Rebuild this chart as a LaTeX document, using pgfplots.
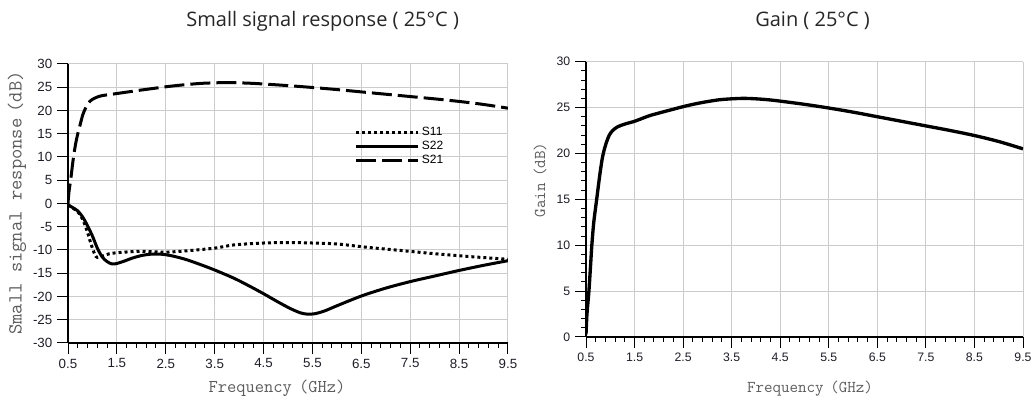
\documentclass[border=0pt]{standalone}
\usepackage{fontspec}
\usepackage{pgfplots}
\pgfplotsset{compat=1.18}
\setmainfont{Liberation Sans}
\newfontfamily\titlefont{Open Sans}
\definecolor{gridc}{HTML}{CCCCCC}
\definecolor{labc}{HTML}{5C5C5C}
\definecolor{tickc}{HTML}{1E1E28}
\pgfplotsset{
  common/.style={
    scale only axis, anchor=south west,
    xmin=0.5, xmax=9.5,
    xtick={0.5,1.5,2.5,3.5,4.5,5.5,6.5,7.5,8.5,9.5},
    xticklabels={0.5,1.5,2.5,3.5,4.5,5.5,6.5,7.5,8.5,9.5},
    minor x tick num=4,
    axis x line=bottom, axis y line=left,
    axis line style={-, line width=0.8pt, black},
    tick align=outside, major tick length=8.25pt, minor tick length=3.75pt,
    every tick/.style={black, line width=0.75pt},
    grid=major, major grid style={draw=gridc, line width=0.75pt},
    tick label style={color=tickc},
    /pgf/number format/assume math mode=true,
  }
}
\begin{document}
\begin{tikzpicture}
\path[use as bounding box] (0,0) rectangle (774pt,298.5pt);
% titles
\node[anchor=base, font=\titlefont\fontsize{15}{17}\selectfont, text=black!85] at (242pt,278.25pt) {Small signal response ( 25°C )};
\node[anchor=base, font=\titlefont\fontsize{15}{17}\selectfont, text=black!85] at (609.4pt,278.25pt) {Gain ( 25°C )};
% axis labels
\node[rotate=90, font=\ttfamily\fontsize{15}{16}\selectfont, text=labc] at (12.75pt,146.25pt) {Small signal response\hspace{0.3em}(dB)};
\node[anchor=base, font=\ttfamily\fontsize{13.5}{14}\selectfont, text=labc] at (207.75pt,3.75pt) {Frequency\hspace{0.4em}(GHz)};
\node[rotate=90, font=\ttfamily\fontsize{12.4}{14}\selectfont, text=labc] at (405pt,163.5pt) {Gain\hspace{0.4em}(dB)};
\node[anchor=base, font=\ttfamily\fontsize{12.4}{14}\selectfont, text=labc] at (607.5pt,3.75pt) {Frequency\hspace{0.4em}(GHz)};

\begin{axis}[common,
  at={(51pt,41.25pt)}, width=330pt, height=209.25pt,
  ymin=-30, ymax=30,
  ytick={-30,-25,-20,-15,-10,-5,0,5,10,15,20,25,30},
  yticklabels={-30,-25,-20,-15,-10,-5,0,5,10,15,20,25,30},
  tick label style={font=\fontsize{10}{12}\selectfont},
  legend cell align=left,
  legend style={at={(axis cs:6.37,16.88)}, anchor=north west, draw=none, fill=none,
    inner sep=0pt, outer sep=0pt, row sep=0pt,
    font=\fontsize{9}{9}\selectfont,
    nodes={inner sep=1.5pt, text height=6.5pt, text depth=1pt}},
  legend image code/.code={\draw[#1] (0pt,0pt) -- (46.5pt,0pt);},
]
\addplot[black, line width=2.25pt, dash pattern=on 2.25pt off 2.25pt, smooth, tension=0.5] coordinates {
(0.5,-0.3) (0.6,-1.0) (0.7,-1.8) (0.8,-3.4) (0.9,-6.2) (0.95,-8.0) (1.0,-9.6) (1.05,-11.0)
(1.1,-11.6) (1.2,-11.3) (1.35,-10.8) (1.6,-10.5) (2.0,-10.3) (2.5,-10.45) (2.9,-10.2)
(3.5,-9.6) (3.9,-8.9) (4.5,-8.5) (5.0,-8.4) (5.5,-8.5) (6.0,-8.7) (6.6,-9.4) (7.3,-10.1)
(8.0,-10.8) (8.7,-11.4) (9.5,-12.0)};
\addlegendentry{S11}
\addplot[black, line width=2.25pt, smooth, tension=0.5] coordinates {
(0.5,-0.3) (0.6,-0.9) (0.7,-1.6) (0.8,-2.9) (0.9,-4.8) (1.0,-7.0) (1.1,-9.6) (1.2,-11.5)
(1.3,-12.5) (1.4,-13.0) (1.5,-12.9) (1.65,-12.4) (1.8,-11.8) (2.0,-11.2) (2.2,-10.9)
(2.4,-10.9) (2.6,-11.2) (2.9,-12.0) (3.2,-13.1) (3.5,-14.3) (3.9,-16.1) (4.2,-17.7)
(4.5,-19.4) (4.8,-21.2) (5.05,-22.6) (5.25,-23.5) (5.4,-23.8) (5.55,-23.7) (5.75,-23.1)
(6.0,-22.0) (6.5,-19.9) (7.0,-18.2) (7.5,-16.8) (8.0,-15.6) (8.5,-14.4) (9.0,-13.3) (9.5,-12.3)};
\addlegendentry{S22}
\addplot[black, line width=2.25pt, dash pattern=on 15pt off 4.5pt, smooth, tension=0.5] coordinates {
(0.5,0) (0.52,2.5) (0.56,5.5) (0.6,9) (0.65,12.5) (0.7,15) (0.75,17) (0.8,19) (0.85,20.3)
(0.9,21.3) (0.95,22) (1.0,22.4) (1.1,22.9) (1.2,23.2) (1.4,23.5) (1.6,23.8) (1.8,24.1)
(2.0,24.4) (2.25,24.75) (2.5,25.1) (2.75,25.4) (3.0,25.65) (3.25,25.85) (3.5,25.95)
(3.75,26) (4.0,25.95) (4.25,25.85) (4.5,25.7) (5.0,25.35) (5.5,24.95) (6.0,24.5)
(6.5,24.0) (7.0,23.5) (7.5,23.0) (8.0,22.5) (8.5,21.95) (9.0,21.3) (9.5,20.5)};
\addlegendentry{S21}
\end{axis}

\begin{axis}[common,
  at={(439.5pt,45.75pt)}, width=327.75pt, height=206.5pt,
  ymin=0, ymax=30,
  ytick={0,5,10,15,20,25,30},
  yticklabels={0,5,10,15,20,25,30},
  minor y tick num=4,
  tick label style={font=\fontsize{9.2}{11}\selectfont},
]
\addplot[black, line width=2.5pt, smooth, tension=0.5] coordinates {
(0.5,0.3) (0.52,2.5) (0.56,5) (0.6,8.3) (0.62,10) (0.66,12.5) (0.72,15) (0.78,17.5)
(0.83,19.3) (0.87,20.3) (0.92,21.2) (0.98,22) (1.05,22.5) (1.15,22.9) (1.3,23.2)
(1.5,23.5) (1.6,23.7) (1.8,24.1) (2.0,24.4) (2.25,24.75) (2.5,25.1) (2.75,25.4)
(3.0,25.65) (3.25,25.85) (3.5,25.95) (3.75,26) (4.0,25.95) (4.25,25.85) (4.5,25.7)
(5.0,25.35) (5.5,24.95) (6.0,24.5) (6.5,24.0) (7.0,23.5) (7.5,23.0) (8.0,22.5)
(8.5,21.95) (9.0,21.3) (9.5,20.5)};
\end{axis}
\end{tikzpicture}
\end{document}
